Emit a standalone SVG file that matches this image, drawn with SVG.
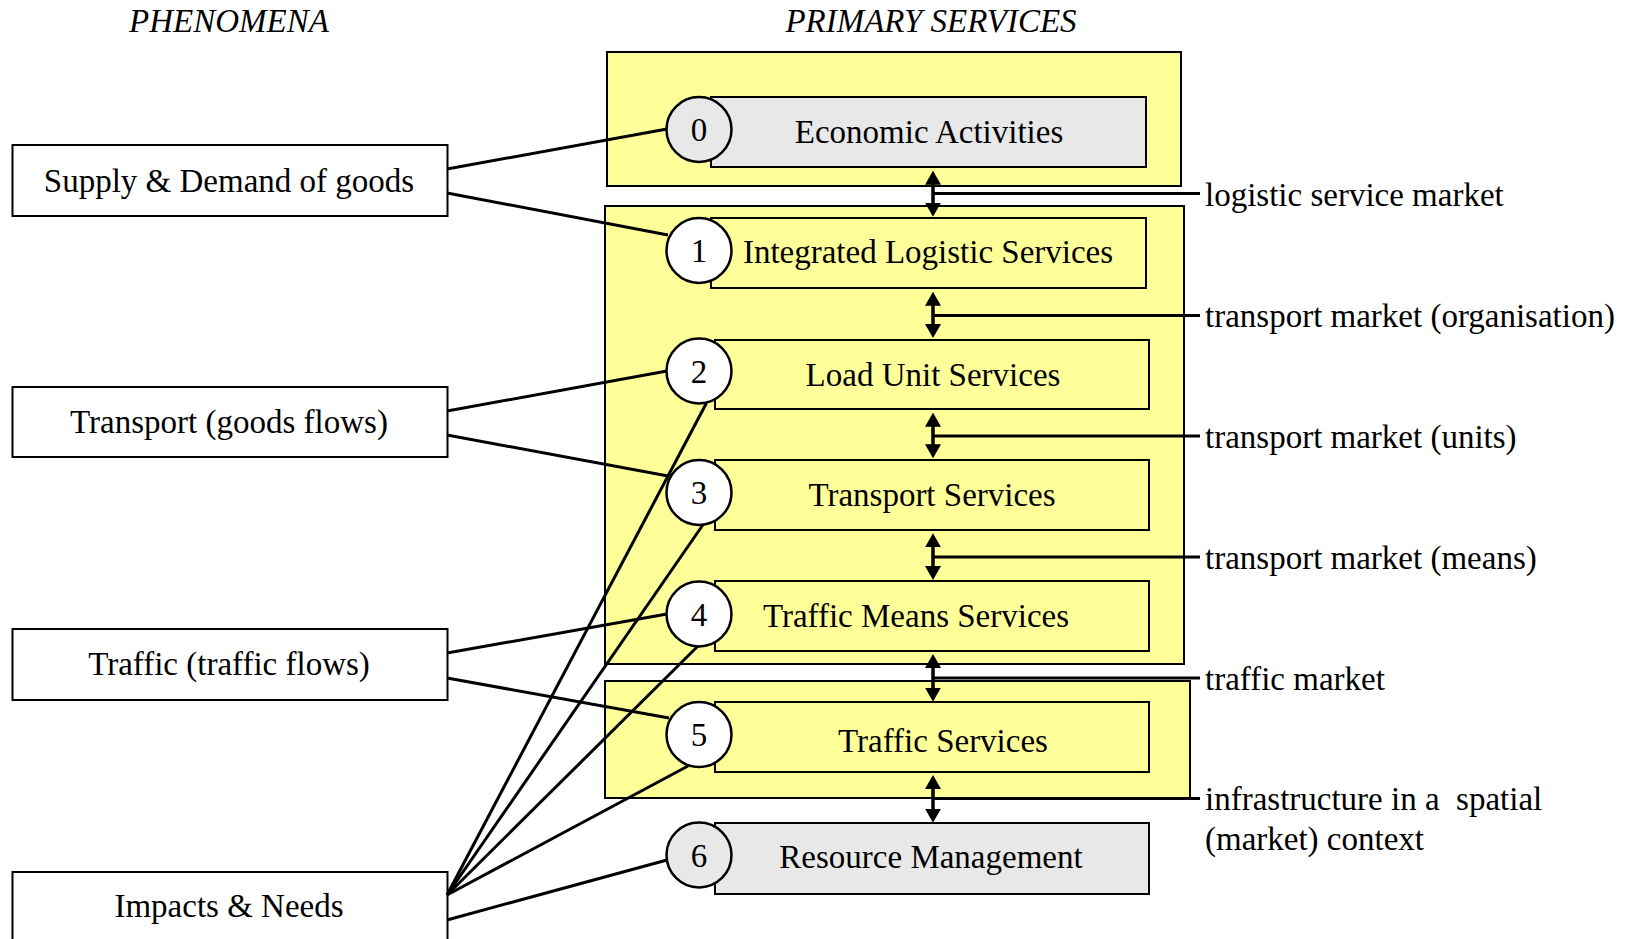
<svg xmlns="http://www.w3.org/2000/svg" width="1633" height="939" viewBox="0 0 1633 939">
<style>
text{font-family:"Liberation Serif","Times New Roman",serif;font-size:33px;fill:#000}
.hdr{font-style:italic;text-anchor:middle}
.c{text-anchor:middle}
.lbl{text-anchor:start;white-space:pre}
.cont{fill:#ffff99;stroke:#000;stroke-width:2}
.box{fill:#ffff99;stroke:#000;stroke-width:2}
.grey{fill:#e8e8e8;stroke:#000;stroke-width:2}
.pbox{fill:#fff;stroke:#000;stroke-width:2}
.circ{fill:#fff;stroke:#000;stroke-width:2.5}
.circg{fill:#e8e8e8;stroke:#000;stroke-width:2.5}
.ln{stroke:#000;stroke-width:3;fill:none}
.arr{stroke:#000;stroke-width:3.5;fill:none;marker-start:url(#ah);marker-end:url(#ah)}
</style>
<defs>
<marker id="ah" viewBox="0 0 14 16" refX="10" refY="8" markerWidth="14" markerHeight="16" markerUnits="userSpaceOnUse" orient="auto-start-reverse">
<path d="M0,0 L14,8 L0,16 z" fill="#000"/>
</marker>
</defs>
<rect width="1633" height="939" fill="#fff"/>

<text class="hdr" x="229" y="32">PHENOMENA</text>
<text class="hdr" x="931" y="32">PRIMARY SERVICES</text>

<g id="containers">
<rect class="cont" x="607" y="52" width="574" height="134"/>
<rect class="cont" x="605" y="206" width="579" height="458"/>
<rect class="cont" x="605" y="681" width="585" height="117"/>
</g>

<g id="n0-box"><rect class="grey" x="711" y="97" width="435" height="70"/><text class="c" x="929" y="143">Economic Activities</text></g>
<g id="n1-box"><rect class="box" x="711" y="218" width="435" height="70"/><text class="c" x="928" y="263">Integrated Logistic Services</text></g>
<g id="n2-box"><rect class="box" x="715" y="340" width="434" height="69"/><text class="c" x="933" y="386">Load Unit Services</text></g>
<g id="n3-box"><rect class="box" x="715" y="460" width="434" height="70"/><text class="c" x="932" y="506">Transport Services</text></g>
<g id="n4-box"><rect class="box" x="715" y="581" width="434" height="70"/><text class="c" x="916" y="627">Traffic Means Services</text></g>
<g id="n5-box"><rect class="box" x="715" y="702" width="434" height="70"/><text class="c" x="943" y="752">Traffic Services</text></g>
<g id="n6-box"><rect class="grey" x="715" y="823" width="434" height="71"/><text class="c" x="931" y="868">Resource Management</text></g>

<g id="p-supply"><rect class="pbox" x="12.5" y="145" width="435" height="71"/><text class="c" x="229" y="192">Supply &amp; Demand of goods</text></g>
<g id="p-transport"><rect class="pbox" x="12.5" y="387" width="435" height="70"/><text class="c" x="229" y="433">Transport (goods flows)</text></g>
<g id="p-traffic"><rect class="pbox" x="12.5" y="629" width="435" height="71"/><text class="c" x="229" y="675">Traffic (traffic flows)</text></g>
<g id="p-impacts"><rect class="pbox" x="12.5" y="872" width="435" height="80"/><text class="c" x="229" y="917">Impacts &amp; Needs</text></g>

<g id="connectors">
<line class="ln" x1="447" y1="169" x2="667" y2="129"/>
<line class="ln" x1="447" y1="193" x2="668" y2="235"/>
<line class="ln" x1="447" y1="411" x2="667" y2="371"/>
<line class="ln" x1="447" y1="435" x2="668" y2="476"/>
<line class="ln" x1="447" y1="653" x2="667" y2="614"/>
<line class="ln" x1="447" y1="678" x2="669" y2="718"/>
<line class="ln" x1="447" y1="895" x2="706.5" y2="403"/>
<line class="ln" x1="447" y1="895" x2="703.5" y2="524"/>
<line class="ln" x1="447" y1="895" x2="698" y2="646"/>
<line class="ln" x1="447" y1="895" x2="688" y2="766"/>
<line class="ln" x1="447" y1="920" x2="667" y2="860"/>

<line class="arr" x1="933" y1="174.7" x2="933" y2="212.7"/>
<line class="arr" x1="933" y1="295.7" x2="933" y2="334"/>
<line class="arr" x1="933" y1="416.7" x2="933" y2="454.3"/>
<line class="arr" x1="933" y1="537.3" x2="933" y2="576"/>
<line class="arr" x1="933" y1="658" x2="933" y2="697.7"/>
<line class="arr" x1="933" y1="779" x2="933" y2="818.7"/>

<line class="ln" x1="933" y1="193.5" x2="1200" y2="193.5"/>
<line class="ln" x1="933" y1="315.5" x2="1200" y2="315.5"/>
<line class="ln" x1="933" y1="436" x2="1200" y2="436"/>
<line class="ln" x1="933" y1="557" x2="1200" y2="557"/>
<line class="ln" x1="933" y1="678" x2="1200" y2="678"/>
<line class="ln" x1="933" y1="798.5" x2="1200" y2="798.5"/>
</g>

<g id="n0"><ellipse class="circg" cx="699" cy="129.5" rx="32.5" ry="32.5"/><text class="c" x="699" y="141">0</text></g>
<g id="n1"><ellipse class="circ" cx="699" cy="250.5" rx="32.5" ry="32.5"/><text class="c" x="699" y="262">1</text></g>
<g id="n2"><ellipse class="circ" cx="699" cy="371" rx="32.5" ry="32.5"/><text class="c" x="699" y="382.5">2</text></g>
<g id="n3"><ellipse class="circ" cx="699" cy="492.5" rx="32.5" ry="32.5"/><text class="c" x="699" y="504">3</text></g>
<g id="n4"><ellipse class="circ" cx="699" cy="614" rx="32.5" ry="32.5"/><text class="c" x="699" y="625.5">4</text></g>
<g id="n5"><ellipse class="circ" cx="699" cy="734.5" rx="32.5" ry="32.5"/><text class="c" x="699" y="746">5</text></g>
<g id="n6"><ellipse class="circg" cx="699" cy="855" rx="32.5" ry="32.5"/><text class="c" x="699" y="866.5">6</text></g>

<g id="labels">
<text class="lbl" x="1205" y="206">logistic service market</text>
<text class="lbl" x="1205" y="327">transport market (organisation)</text>
<text class="lbl" x="1205" y="448">transport market (units)</text>
<text class="lbl" x="1205" y="569">transport market (means)</text>
<text class="lbl" x="1205" y="690">traffic market</text>
<text class="lbl" x="1205" y="810" xml:space="preserve">infrastructure in a  spatial</text>
<text class="lbl" x="1205" y="850">(market) context</text>
</g>
</svg>
